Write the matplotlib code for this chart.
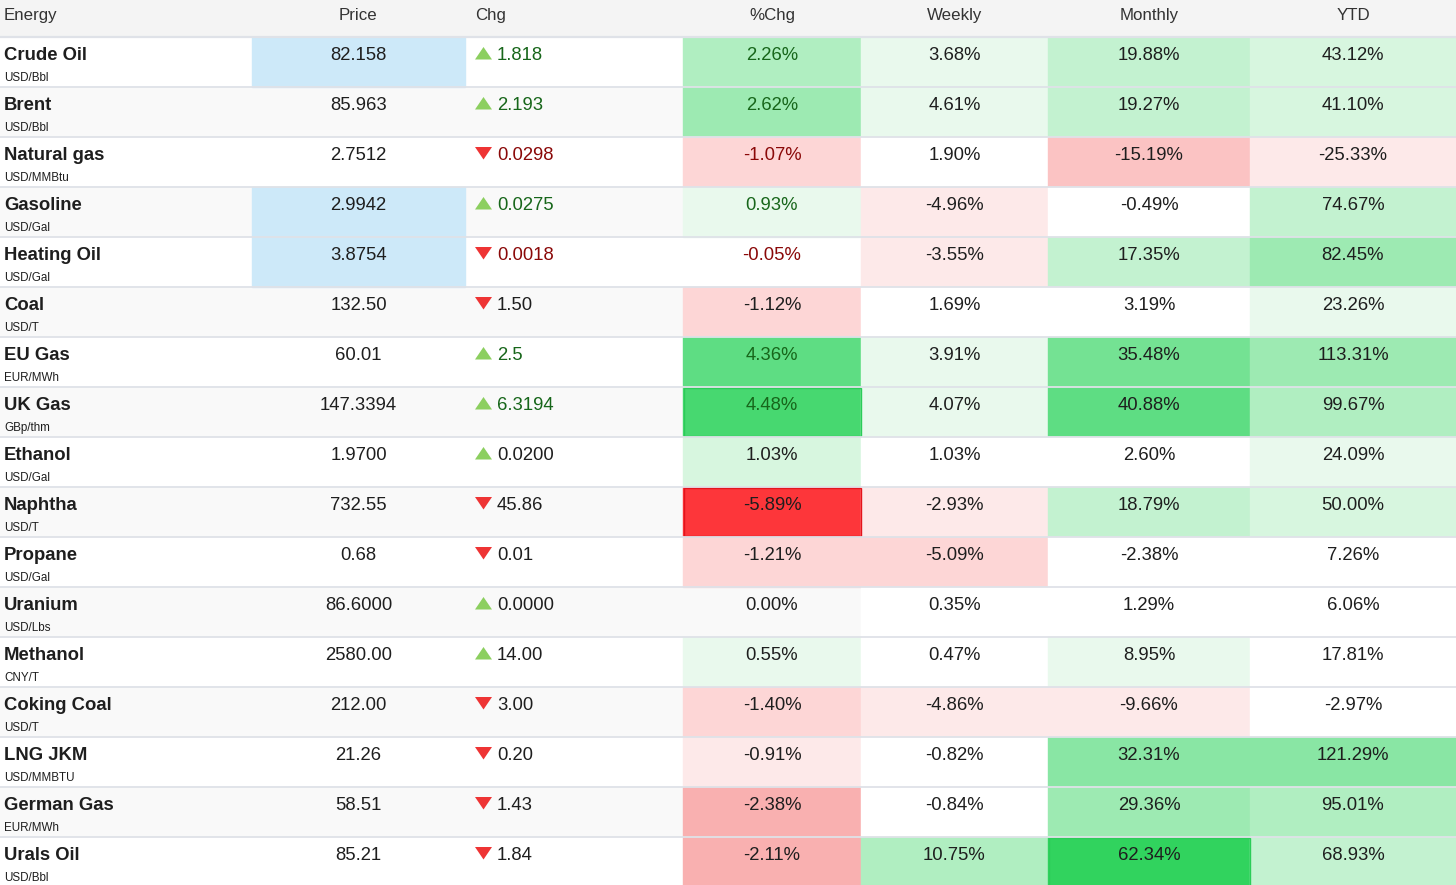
import matplotlib
matplotlib.use("Agg")
import matplotlib.pyplot as plt
from matplotlib.patches import Rectangle, Polygon

plt.rcParams["font.family"] = ["Liberation Sans", "DejaVu Sans"]

headers = ["Energy", "Price", "Chg", "%Chg", "Weekly", "Monthly", "YTD"]
names = ["Crude Oil", "Brent", "Natural gas", "Gasoline", "Heating Oil", "Coal",
         "EU Gas", "UK Gas", "Ethanol", "Naphtha", "Propane", "Uranium",
         "Methanol", "Coking Coal", "LNG JKM", "German Gas", "Urals Oil"]
units = ["USD/Bbl", "USD/Bbl", "USD/MMBtu", "USD/Gal", "USD/Gal", "USD/T",
         "EUR/MWh", "GBp/thm", "USD/Gal", "USD/T", "USD/Gal", "USD/Lbs",
         "CNY/T", "USD/T", "USD/MMBTU", "EUR/MWh", "USD/Bbl"]
prices = ["82.158", "85.963", "2.7512", "2.9942", "3.8754", "132.50", "60.01",
          "147.3394", "1.9700", "732.55", "0.68", "86.6000", "2580.00",
          "212.00", "21.26", "58.51", "85.21"]
changes = ["+1.818", "+2.193", "-0.0298", "+0.0275", "-0.0018", "-1.50", "+2.5",
           "+6.3194", "+0.0200", "-45.86", "-0.01", "+0.0000", "+14.00",
           "-3.00", "-0.20", "-1.43", "-1.84"]
pct_chg = [2.26, 2.62, -1.07, 0.93, -0.05, -1.12, 4.36, 4.48, 1.03, -5.89,
           -1.21, 0.00, 0.55, -1.40, -0.91, -2.38, -2.11]
weekly = [3.68, 4.61, 1.90, -4.96, -3.55, 1.69, 3.91, 4.07, 1.03, -2.93,
          -5.09, 0.35, 0.47, -4.86, -0.82, -0.84, 10.75]
monthly = [19.88, 19.27, -15.19, -0.49, 17.35, 3.19, 35.48, 40.88, 2.60,
           18.79, -2.38, 1.29, 8.95, -9.66, 32.31, 29.36, 62.34]
ytd = [43.12, 41.10, -25.33, 74.67, 82.45, 23.26, 113.31, 99.67, 24.09,
       50.00, 7.26, 6.06, 17.81, -2.97, 121.29, 95.01, 68.93]

# heat level of each cell as shown (+ green, - red, 0 none)
shade_pct = [4, 5, -2, 1, 0, -2, 8, 9, 2, -5, -2, 0, 1, -2, -1, -4, -4]
shade_week = [1, 1, 0, -1, -1, 0, 1, 1, 0, -1, -2, 0, 0, -1, 0, 0, 4]
shade_month = [3, 3, -3, 0, 3, 0, 7, 8, 0, 3, 0, 0, 1, -1, 6, 5, 10]
shade_ytd = [2, 2, -1, 3, 5, 1, 5, 4, 1, 2, 0, 0, 0, 0, 6, 4, 3]

# rows with a live quote (coloured change text) and a flashing price cell
live = [True, True, True, True, True, False, True, True, False, False,
        False, False, False, False, False, False, False]
flash = [True, False, False, True, True, False, False, False, False, False,
         False, False, False, False, False, False, False]

# --- styling ---
GREENS = ["#e9f9ed", "#d7f6df", "#c3f2d0", "#b0eec1", "#9deab2", "#89e6a4",
          "#74e293", "#5edd83", "#47d870", "#31d35e"]
REDS = ["#fde9e9", "#fdd6d6", "#fbc3c3", "#f9b0b0", "#fd363a"]
TEXT = "#1e1e1e"
UP_TEXT, DOWN_TEXT = "#17661a", "#8a0808"
UP_TRI, DOWN_TRI = "#8ccf5f", "#ee3434"
LINE = "#dfe2e8"
FS = 13.3


def shade_color(level):
    if level > 0:
        return GREENS[level - 1]
    if level < 0:
        return REDS[-level - 1]
    return None


W, H = 1456, 885
col_edges = [0, 252, 465, 683, 861, 1048, 1250, 1456]
head_h, row_h = 37, 50

fig = plt.figure(figsize=(W / 100, H / 100), dpi=100)
ax = fig.add_axes([0, 0, 1, 1])
ax.set_xlim(0, W)
ax.set_ylim(H, 0)
ax.axis("off")

# header
ax.add_patch(Rectangle((0, 0), W, head_h, color="#f4f4f4", zorder=0))
for j, h in enumerate(headers):
    if j == 0:
        x, ha = 4, "left"
    elif j == 2:
        x, ha = col_edges[2] + 10, "left"
    else:
        x, ha = (col_edges[j] + col_edges[j + 1]) / 2, "center"
    ax.text(x, 20, h, ha=ha, va="baseline", fontsize=12.2, color="#333333")
ax.plot([0, W], [head_h, head_h], color=LINE, lw=1.6, zorder=5, solid_capstyle="butt")

pct_cols = [pct_chg, weekly, monthly, ytd]
shade_cols = [shade_pct, shade_week, shade_month, shade_ytd]

for i, name in enumerate(names):
    top = head_h + i * row_h
    stripe = "#f9f9f9" if i % 2 else "#ffffff"
    ax.add_patch(Rectangle((0, top), W, row_h, color=stripe, zorder=0))
    if flash[i]:
        ax.add_patch(Rectangle((col_edges[1], top), col_edges[2] - col_edges[1], row_h,
                               color="#cde9f9", zorder=1))

    base = top + 23
    yv = top + 16.5
    ax.text(4, base, name, ha="left", va="baseline", fontsize=FS, fontweight="bold",
            color=TEXT)
    ax.text(4, top + 44, units[i], ha="left", va="baseline", fontsize=8.4, color=TEXT)
    ax.text((col_edges[1] + col_edges[2]) / 2, base, prices[i], ha="center", va="baseline",
            fontsize=FS, color=TEXT)

    # change with arrow
    up = changes[i].startswith("+")
    x0 = col_edges[2] + 10
    if up:
        tri = [(x0, yv + 6), (x0 + 17, yv + 6), (x0 + 8.5, yv - 6.5)]
    else:
        tri = [(x0, yv - 6.5), (x0 + 17, yv - 6.5), (x0 + 8.5, yv + 6)]
    ax.add_patch(Polygon(tri, closed=True, color=UP_TRI if up else DOWN_TRI, lw=0, zorder=3))
    chg_color = (UP_TEXT if up else DOWN_TEXT) if live[i] else TEXT
    ax.text(x0 + 22, base, changes[i][1:], ha="left", va="baseline", fontsize=FS,
            color=chg_color)

    for k, (vals, shades) in enumerate(zip(pct_cols, shade_cols)):
        c0, c1 = col_edges[3 + k], col_edges[4 + k]
        color = shade_color(shades[i])
        if color is None and k > 0:
            color = "#ffffff"
        if color is not None:
            ax.add_patch(Rectangle((c0, top), c1 - c0, row_h, color=color, zorder=1))
        if abs(shades[i]) >= 9 or shades[i] <= -5:
            edge = "#e3141c" if shades[i] < 0 else "#2bcc58"
            ax.add_patch(Rectangle((c0 + 0.5, top + 1), c1 - c0 - 1, row_h - 2, fill=False,
                                   edgecolor=edge, lw=1.0, zorder=4))
        v = vals[i]
        tcolor = TEXT
        if k == 0 and live[i]:
            tcolor = UP_TEXT if v > 0 else DOWN_TEXT
        ax.text((c0 + c1) / 2, base, f"{v:.2f}%", ha="center", va="baseline", fontsize=FS,
                color=tcolor, zorder=6)

    bottom = top + row_h
    ax.plot([0, W], [bottom, bottom], color=LINE, lw=1.3, zorder=5, solid_capstyle="butt")

fig.savefig("out.png", dpi=100)
